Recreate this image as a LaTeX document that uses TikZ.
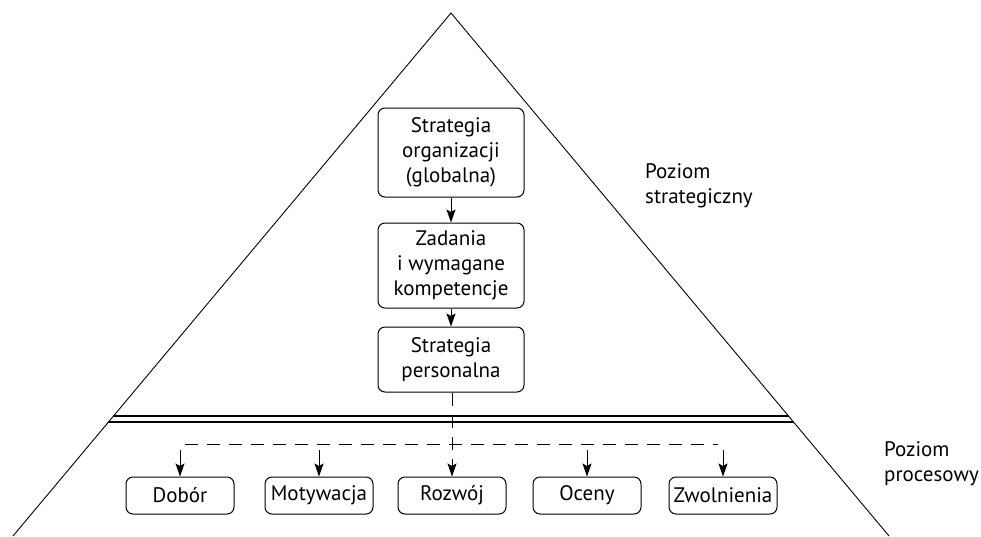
\documentclass[tikz,border=0pt]{standalone}
\usepackage{fontspec}
\setmainfont{PT Sans}
\usetikzlibrary{arrows.meta,positioning}
\begin{document}
\begin{tikzpicture}[x=1pt, y=-1pt,
    box/.style={draw, line width=1pt, rounded corners=7pt, align=center, inner sep=2pt,
                font=\fontsize{21}{25}\selectfont},
    smallbox/.style={box, minimum width=108pt, minimum height=37pt},
    bigbox/.style={box, minimum width=146pt},
    arr/.style={-{Stealth[length=13pt,width=9pt,inset=2.5pt]}, line width=1pt},
    dashline/.style={line width=1pt, dash pattern=on 13pt off 9pt},
    label/.style={align=left, anchor=north west, inner sep=0pt,
                  font=\fontsize{21}{25}\selectfont}]
    \useasboundingbox (0,0) rectangle (981,536);
    % Piramida
    \draw[line width=0.9pt] (13,536) -- (451,13) -- (889,536);
    % Podwojna linia
    \begin{scope}
        \clip (13,536) -- (451,13) -- (889,536) -- cycle;
        \draw[line width=1.1pt] (0,416) -- (981,416);
        \draw[line width=1.1pt] (0,422) -- (981,422);
    \end{scope}
    % Poziom strategiczny
    \node[bigbox, minimum height=89pt] (strat) at (451,152.5) {Strategia\\organizacji\\(globalna)};
    \node[bigbox, minimum height=85pt] (zad) at (451,265.5) {Zadania\\i wymagane\\kompetencje};
    \node[bigbox, minimum height=65pt] (pers) at (451,359.5) {Strategia\\personalna};
    \draw[arr] (strat) -- (zad);
    \draw[arr] (zad) -- (pers);
    % Poziom procesowy
    \node[smallbox] (dobor) at (180,495.5) {Dobór};
    \node[smallbox] (motyw) at (319,495.5) {Motywacja};
    \node[smallbox] (rozwoj) at (452,495.5) {Rozwój};
    \node[smallbox] (oceny) at (587,495.5) {Oceny};
    \node[smallbox] (zwoln) at (723,495.5) {Zwolnienia};
    \coordinate (lewy) at (185,444);
    \coordinate (prawy) at (718,444);
    \draw[dashline] (lewy) -- (prawy);
    \draw[dashline, arr] (pers.south -| rozwoj.north) -- (rozwoj.north);
    \foreach \n in {dobor, motyw, oceny, zwoln}
        \draw[arr] ([yshift=27pt]\n.north) -- (\n.north);
    % Opisy
    \node[label] (strattxt) at (645,163) {Poziom\\strategiczny};
    \node[label] (proctxt) at (884,441) {Poziom\\procesowy};
\end{tikzpicture}
\end{document}
